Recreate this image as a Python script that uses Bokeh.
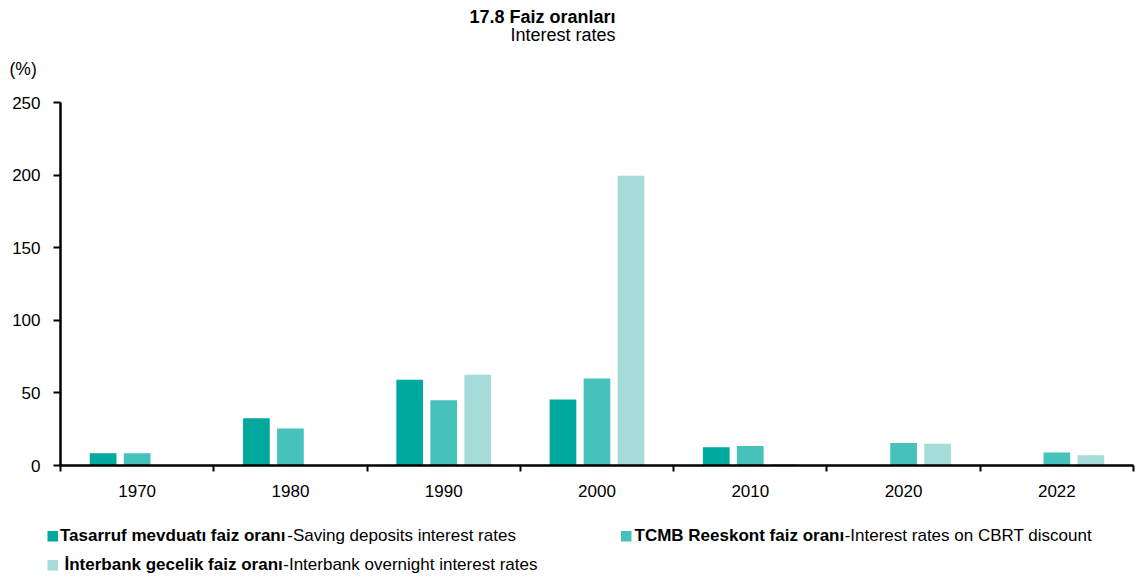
from bokeh.plotting import figure
from bokeh.models import Range1d, FixedTicker, ColumnDataSource
from bokeh.core.properties import value
from bokeh.embed import file_html
from bokeh.resources import INLINE

# ---- data ----
years = ["1970", "1980", "1990", "2000", "2010", "2020", "2022"]
saving_deposits = [8.5, 32.5, 59.0, 45.5, 12.5, None, None]
cbrt_discount = [8.5, 25.5, 45.0, 60.0, 13.5, 15.5, 9.0]
interbank_overnight = [None, None, 62.5, 199.5, 1.0, 15.0, 7.0]
y_ticks = [0, 50, 100, 150, 200, 250]

COLORS = ["#00A99D", "#46C2BA", "#A6DCD7"]
series = [
    (saving_deposits, COLORS[0], -0.222),
    (cbrt_discount, COLORS[1], 0.0),
    (interbank_overnight, COLORS[2], 0.222),
]

FONT = "Liberation Sans"
W = 1140
HEAD_H, MAIN_H, LEG_H = 90, 420, 69
NCAT = len(years)
TY = -6  # baseline correction of the text glyph (px)


def blank(h, y0):
    f = figure(width=W, height=h, output_backend="svg", toolbar_location=None,
               x_range=Range1d(0, W), y_range=Range1d(y0 + h, y0),
               x_axis_type=None, y_axis_type=None,
               min_border=0, min_border_left=0, min_border_right=0,
               min_border_top=0, min_border_bottom=0)
    f.outline_line_color = None
    f.xgrid.visible = False
    f.ygrid.visible = False
    f.background_fill_color = "white"
    f.border_fill_color = "white"
    return f


# ---- header: title and unit ----
head = blank(HEAD_H, 0)
head.text(x=[615], y=[22 + TY], text=["17.8 Faiz oranları"], text_font=value(FONT),
          text_font_size="18px", text_font_style="bold", text_align="right",
          text_baseline="alphabetic", text_color="black")
head.text(x=[615], y=[40 + TY], text=["Interest rates"], text_font=value(FONT),
          text_font_size="18px", text_align="right",
          text_baseline="alphabetic", text_color="black")
head.text(x=[9], y=[74 + TY], text=["(%)"], text_font=value(FONT),
          text_font_size="17.5px", text_align="left",
          text_baseline="alphabetic", text_color="black")

# ---- main chart ----
p = figure(width=W, height=MAIN_H, output_backend="svg", toolbar_location=None,
           x_range=Range1d(0, NCAT), y_range=Range1d(0, 250),
           min_border_left=60, min_border_right=7,
           min_border_top=12, min_border_bottom=45)
p.outline_line_color = None
p.xgrid.visible = False
p.ygrid.visible = False
p.background_fill_color = "white"
p.border_fill_color = "white"

for vals, color, off in series:
    xs, tops = [], []
    for i, v in enumerate(vals):
        if v is None:
            continue
        xs.append(i + 0.5 + off)
        tops.append(v)
    src = ColumnDataSource(dict(x=xs, top=tops))
    p.vbar(x="x", top="top", bottom=0, width=0.174, source=src,
           fill_color=color, line_color=None)

xa = p.xaxis[0]
xa.ticker = FixedTicker(ticks=[i + 0.5 for i in range(NCAT)],
                        minor_ticks=list(range(NCAT + 1)))
xa.major_label_overrides = {i + 0.5: y for i, y in enumerate(years)}
xa.major_tick_out = 0
xa.major_tick_in = 0
xa.minor_tick_out = 6
xa.minor_tick_in = 0
xa.minor_tick_line_width = 2
xa.minor_tick_line_color = "black"
xa.axis_line_width = 2.5
xa.axis_line_color = "black"
xa.major_label_standoff = 13
xa.major_label_text_font = FONT
xa.major_label_text_font_size = "17px"
xa.major_label_text_color = "black"

ya = p.yaxis[0]
ya.ticker = FixedTicker(ticks=y_ticks, minor_ticks=[])
ya.major_tick_out = 7
ya.major_tick_in = 0
ya.major_tick_line_width = 2
ya.major_tick_line_color = "black"
ya.axis_line_width = 2.5
ya.axis_line_color = "black"
ya.major_label_standoff = 13
ya.major_label_text_font = FONT
ya.major_label_text_font_size = "17px"
ya.major_label_text_color = "black"

# ---- legend: bold Turkish name + regular English name ----
LEG_Y0 = HEAD_H + MAIN_H
leg = blank(LEG_H, LEG_Y0)
LFS = 17
legend_items = [
    ("Tasarruf mevduatı faiz oranı", "-Saving deposits interest rates", 0, 47, 59.5, 541, 13.337),
    ("TCMB Reeskont faiz oranı", "-Interest rates on CBRT discount", 1, 620.5, 634, 541, 12.335),
    ("İnterbank gecelik faiz oranı", "-Interbank overnight interest rates", 2, 47, 64, 570, 12.838),
]
for bold, normal, ci, sqx, tx, base, bw in legend_items:
    leg.quad(left=[sqx], right=[sqx + 10.5], top=[base - 10.5], bottom=[base],
             fill_color=COLORS[ci], line_color=None)
    leg.text(x=[tx], y=[base + TY], text=[bold], text_font=value(FONT),
             text_font_size=f"{LFS}px", text_font_style="bold",
             text_baseline="alphabetic", text_color="black")
    leg.text(x=[tx + bw * LFS + 0.5], y=[base + TY], text=[normal], text_font=value(FONT),
             text_font_size=f"{LFS}px",
             text_baseline="alphabetic", text_color="black")

open("out.html", "w").write(file_html([head, p, leg], INLINE))
